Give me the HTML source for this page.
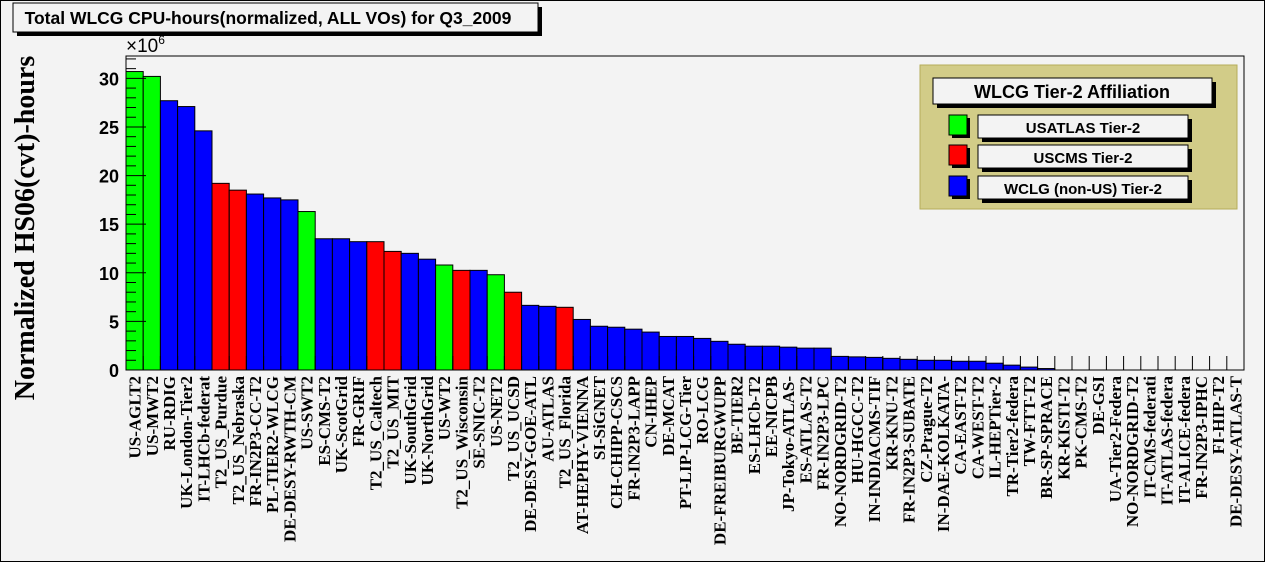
<!DOCTYPE html>
<html><head><meta charset="utf-8"><style>
html,body{margin:0;padding:0;background:#f3f3f3;}
svg{display:block;font-family:"Liberation Sans",sans-serif;}
</style></head><body>
<svg id="chart" width="1265" height="562" viewBox="0 0 1265 562">
<rect x="0.5" y="0.5" width="1264" height="561" fill="#f3f3f3" stroke="#000"/>
<g>
<rect x="17" y="7" width="525" height="29" fill="#000"/>
<rect x="13" y="3" width="525" height="29" fill="#f3f3f3" stroke="#000"/>
<text x="268" y="24" text-anchor="middle" font-size="17.5" font-weight="bold">Total WLCG CPU-hours(normalized, ALL VOs) for Q3_2009</text>
</g>
<text transform="translate(34,228) rotate(-90)" text-anchor="middle" font-family="Liberation Serif,serif" font-size="28" font-weight="bold">Normalized HS06(cvt)-hours</text>
<text x="126" y="52" font-size="19">×10<tspan font-size="12" dy="-8">6</tspan></text>
<rect x="126" y="56" width="1118" height="314" fill="#f3f3f3" stroke="#000"/>
<g id="bars"></g>
<g id="yaxis"></g>
<g id="xlabels"></g>
<g>
<rect x="920" y="65" width="317" height="144" fill="#d2cc88" stroke="#b5ad5a"/>
<rect x="937" y="82" width="279" height="26" fill="#000"/>
<rect x="933" y="78" width="279" height="26" fill="#f3f3f3" stroke="#000"/>
<text x="1072" y="98" text-anchor="middle" font-size="18" font-weight="bold">WLCG Tier-2 Affiliation</text>
<g>
<rect x="952" y="118" width="18" height="20" fill="#000"/><rect x="949" y="115" width="18" height="20" fill="#00ff00" stroke="#000"/>
<rect x="982" y="119" width="210" height="23" fill="#000"/><rect x="978" y="115" width="210" height="23" fill="#f3f3f3" stroke="#000"/>
<text x="1083" y="133" text-anchor="middle" font-size="15" font-weight="bold">USATLAS Tier-2</text></g>
<g>
<rect x="952" y="148" width="18" height="20" fill="#000"/><rect x="949" y="145" width="18" height="20" fill="#ff0000" stroke="#000"/>
<rect x="982" y="149" width="210" height="23" fill="#000"/><rect x="978" y="145" width="210" height="23" fill="#f3f3f3" stroke="#000"/>
<text x="1083" y="163" text-anchor="middle" font-size="15" font-weight="bold">USCMS Tier-2</text></g>
<g>
<rect x="952" y="179" width="18" height="20" fill="#000"/><rect x="949" y="176" width="18" height="20" fill="#0000ff" stroke="#000"/>
<rect x="982" y="180" width="210" height="23" fill="#000"/><rect x="978" y="176" width="210" height="23" fill="#f3f3f3" stroke="#000"/>
<text x="1083" y="194" text-anchor="middle" font-size="15" font-weight="bold">WCLG (non-US) Tier-2</text></g>
</g>
</svg>
<script>
const categories=["US-AGLT2","US-MWT2","RU-RDIG","UK-London-Tier2","IT-LHCb-federat","T2_US_Purdue","T2_US_Nebraska","FR-IN2P3-CC-T2","PL-TIER2-WLCG","DE-DESY-RWTH-CM","US-SWT2","ES-CMS-T2","UK-ScotGrid","FR-GRIF","T2_US_Caltech","T2_US_MIT","UK-SouthGrid","UK-NorthGrid","US-WT2","T2_US_Wisconsin","SE-SNIC-T2","US-NET2","T2_US_UCSD","DE-DESY-GOE-ATL","AU-ATLAS","T2_US_Florida","AT-HEPHY-VIENNA","SI-SiGNET","CH-CHIPP-CSCS","FR-IN2P3-LAPP","CN-IHEP","DE-MCAT","PT-LIP-LCG-Tier","RO-LCG","DE-FREIBURGWUPP","BE-TIER2","ES-LHCb-T2","EE-NICPB","JP-Tokyo-ATLAS-","ES-ATLAS-T2","FR-IN2P3-LPC","NO-NORDGRID-T2","HU-HGCC-T2","IN-INDIACMS-TIF","KR-KNU-T2","FR-IN2P3-SUBATE","CZ-Prague-T2","IN-DAE-KOLKATA-","CA-EAST-T2","CA-WEST-T2","IL-HEPTier-2","TR-Tier2-federa","TW-FTT-T2","BR-SP-SPRACE","KR-KISTI-T2","PK-CMS-T2","DE-GSI","UA-Tier2-Federa","NO-NORDGRID-T2","IT-CMS-federati","IT-ATLAS-federa","IT-ALICE-federa","FR-IN2P3-IPHC","FI-HIP-T2","DE-DESY-ATLAS-T"];
const values=[30.7,30.2,27.7,27.1,24.6,19.2,18.5,18.1,17.7,17.5,16.3,13.5,13.5,13.2,13.2,12.2,12.0,11.4,10.8,10.25,10.25,9.8,8.0,6.65,6.55,6.45,5.2,4.5,4.4,4.2,3.9,3.45,3.45,3.25,2.95,2.65,2.45,2.45,2.35,2.25,2.25,1.4,1.35,1.3,1.2,1.1,1.0,1.0,0.9,0.9,0.7,0.5,0.3,0.15,0,0,0,0,0,0,0,0,0,0,0];
const affiliation="GGBBBRRBBBGBBBRRBBGRBGRBBR".padEnd(65,"B").split("");
const yTicks=[0,5,10,15,20,25,30];
const colorMap={G:"#00ff00",R:"#ff0000",B:"#0000ff"};
const NS="http://www.w3.org/2000/svg";
const X0=126,X1=1244,Y0=370,YTOP=56,YMAX=32.3;
const bw=(X1-X0)/categories.length;
function xPos(i){return X0+i*bw;}
function yPos(v){return Y0-(v/YMAX)*(Y0-YTOP);}
function mk(tag,attrs,parent){const e=document.createElementNS(NS,tag);for(const k in attrs)e.setAttribute(k,attrs[k]);parent.appendChild(e);return e;}
const gb=document.getElementById('bars');
values.forEach((v,i)=>{
  const y=yPos(v);
  const r=mk('rect',{x:xPos(i),y:y,width:bw,height:Y0-y,fill:colorMap[affiliation[i]],stroke:v>0?"#000":"none","stroke-width":1},gb);
  
  
  const t=mk('line',{x1:xPos(i),x2:xPos(i),y1:Y0,y2:Y0-14,stroke:"#000"},gb);
  
  
});
mk('line',{x1:X0,x2:X1,y1:Y0,y2:Y0,stroke:"#000"},gb);
const gy=document.getElementById('yaxis');
for(let v=0;v<=32;v++){
  const major=v%5===0;
  mk('line',{x1:X0,x2:X0+(major?20:10),y1:yPos(v),y2:yPos(v),stroke:"#000"},gy);
}
yTicks.forEach(v=>{
  const t=mk('text',{x:119,y:yPos(v)+7,"text-anchor":"end","font-size":18,"font-weight":"bold"},gy);
  t.textContent=v;
  
  
});
const gx=document.getElementById('xlabels');
categories.forEach((c,i)=>{
  const cx=xPos(i)+bw/2+6;
  const t=mk('text',{transform:`translate(${cx},376) rotate(-90)`,"text-anchor":"end","font-family":"Liberation Serif,serif","font-size":17,"font-weight":"bold"},gx);
  t.textContent=c;
  
  
});
</script>
</body></html>
